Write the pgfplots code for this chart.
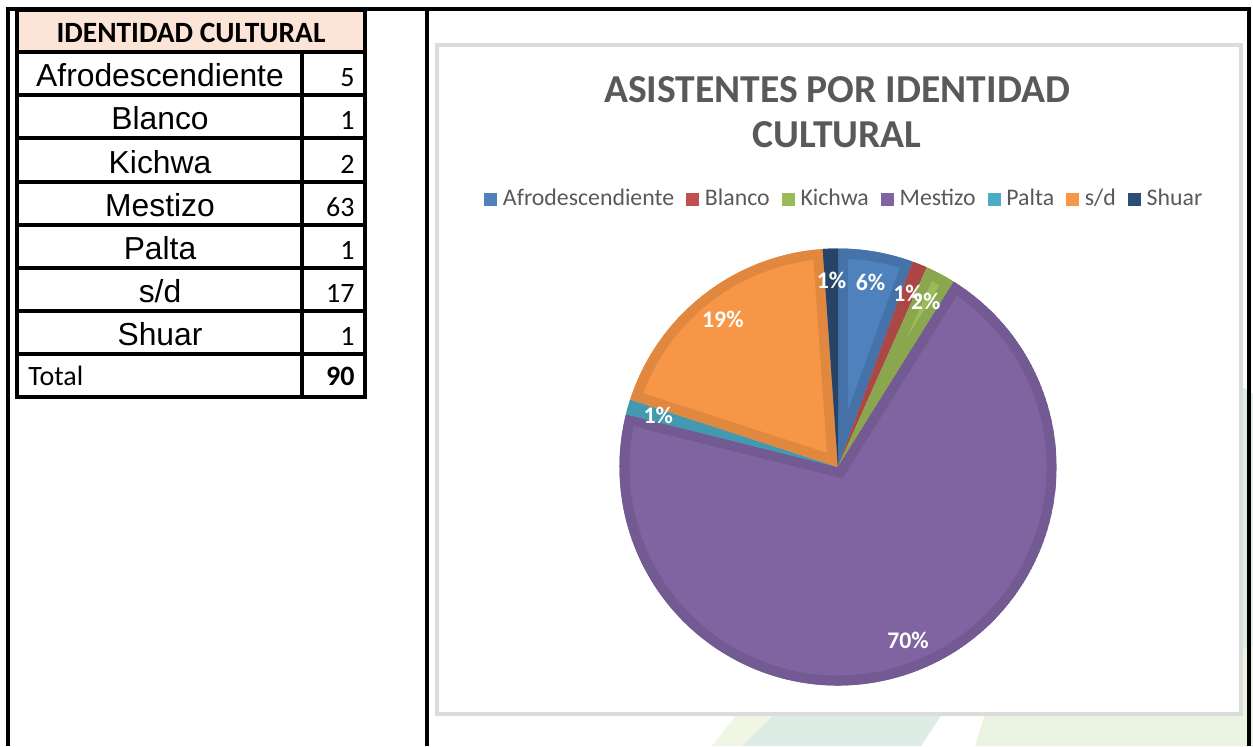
\documentclass[border=0pt]{standalone}
\usepackage{pgfplots}
\pgfplotsset{compat=1.18}
\usepackage{pgfplotstable}
\usepackage{fontspec}
\setmainfont{Carlito}
\newfontfamily\arialfont{Liberation Sans}

\definecolor{c0}{HTML}{4F81BD}\definecolor{b0}{HTML}{4672AA}
\definecolor{c1}{HTML}{C0504D}\definecolor{b1}{HTML}{AB4744}
\definecolor{c2}{HTML}{9BBB59}\definecolor{b2}{HTML}{8AA64F}
\definecolor{c3}{HTML}{8064A2}\definecolor{b3}{HTML}{735A92}
\definecolor{c4}{HTML}{4BACC6}\definecolor{b4}{HTML}{4399B0}
\definecolor{c5}{HTML}{F79646}\definecolor{b5}{HTML}{E0883F}
\definecolor{c6}{HTML}{2C4D75}\definecolor{b6}{HTML}{274468}
\definecolor{txtgray}{HTML}{595959}
\definecolor{boxgray}{HTML}{DCDCDC}
\definecolor{headfill}{HTML}{FCE4D6}
\definecolor{wmteal}{HTML}{DDEDE6}
\definecolor{wmgreen}{HTML}{EBF3E3}
\definecolor{wmyel}{HTML}{F0F6E4}

\pgfplotstableread{
label value
Afrodescendiente 5
Blanco 1
Kichwa 2
Mestizo 63
Palta 1
s/d 17
Shuar 1
}\datatable

% cumulative angles from the table
\xdef\pietotal{0}
\pgfplotsinvokeforeach{0,...,6}{%
  \pgfplotstablegetelem{#1}{value}\of\datatable
  \pgfmathsetmacro\tmpT{\pietotal+\pgfplotsretval}%
  \xdef\pietotal{\tmpT}%
}
\xdef\piecum{0}
\pgfplotsinvokeforeach{0,...,6}{%
  \pgfplotstablegetelem{#1}{value}\of\datatable
  \pgfmathsetmacro\tmpS{90-\piecum/\pietotal*360}%
  \pgfmathsetmacro\tmpE{90-(\piecum+\pgfplotsretval)/\pietotal*360}%
  \pgfmathsetmacro\tmpM{(\tmpS+\tmpE)/2}%
  \pgfmathtruncatemacro\tmpP{round(\pgfplotsretval/\pietotal*100)}%
  \expandafter\xdef\csname pieS#1\endcsname{\tmpS}%
  \expandafter\xdef\csname pieE#1\endcsname{\tmpE}%
  \expandafter\xdef\csname pieM#1\endcsname{\tmpM}%
  \expandafter\xdef\csname pieP#1\endcsname{\tmpP}%
  \pgfmathsetmacro\tmpC{\piecum+\pgfplotsretval}%
  \xdef\piecum{\tmpC}%
}
\newcommand\piepath[1]{(axis cs:0,0) -- ++(\csname pieS#1\endcsname:109.25pt) arc[start angle=\csname pieS#1\endcsname, end angle=\csname pieE#1\endcsname, radius=109.25pt] -- cycle}

\begin{document}
\begin{tikzpicture}[x=0.5pt,y=0.5pt]
\useasboundingbox (0,0) rectangle (1253,746);

% faint background decoration
\fill[wmteal] (1241,360) -- (1253,352) -- (1253,100) -- (1241,96) -- cycle;
\fill[wmgreen] (1241,96) -- (1253,100) -- (1253,0) -- (1241,0) -- cycle;
\fill[wmyel] (737,32) -- (775,32) -- (742,0) -- (712,0) -- cycle;
\fill[wmteal] (775,32) -- (942,32) -- (921,0) -- (742,0) -- cycle;
\fill[wmgreen] (985,32) -- (1253,32) -- (1253,0) -- (975,0) -- cycle;

% chart box
\filldraw[fill=white, draw=boxgray, line width=2] (437,32) rectangle (1241,701);

% outer frame
\draw[line width=2] (8,0) -- (8,737) -- (1249,737) -- (1249,0);
\draw[line width=2] (427,737) -- (427,0);

% table
\fill[headfill] (17,694) rectangle (365,736);
\draw[line width=1.6] (17,736) rectangle (365,349);
\foreach \yy in {694,651,608,564,521,478,435,392} \draw[line width=1.6] (17,\yy) -- (365,\yy);
\draw[line width=1.6] (302,694) -- (302,349);
\node[anchor=base, font=\fontsize{14.7}{16}\selectfont\bfseries] at (191,703) {IDENTIDAD CULTURAL};
\foreach \lab/\val/\yb in {Afrodescendiente/5/651, Blanco/1/608, Kichwa/2/564, Mestizo/63/521, Palta/1/478, s\slash d/17/435, Shuar/1/392}{
  \node[anchor=base, font=\arialfont\fontsize{15.9}{18}\selectfont] at (160,\yb+8.5) {\lab};
  \node[anchor=base east, inner sep=0pt, font=\fontsize{14}{16}\selectfont] at (355,\yb+8.5) {\val};
}
\node[anchor=base west, inner sep=0pt, font=\fontsize{14}{16}\selectfont] at (28,361) {Total};
\node[anchor=base east, inner sep=0pt, font=\fontsize{14}{16}\selectfont\bfseries] at (355,361) {90};

% chart title
\node[anchor=base, text=txtgray, font=\fontsize{19.8}{22}\selectfont\bfseries] at (837,643) {ASISTENTES POR IDENTIDAD};
\node[anchor=base, text=txtgray, font=\fontsize{19.8}{22}\selectfont\bfseries] at (837,598) {CULTURAL};

\begin{axis}[
  at={(419pt,139.5pt)}, anchor=origin,
  x=0.5pt, y=0.5pt,
  xmin=-220, xmax=220, ymin=-220, ymax=220,
  hide axis, clip=false,
  legend columns=7,
  legend style={at={(axis description cs:0.512,1.108)}, anchor=center,
    draw=none, fill=none,
    font=\fontsize{11.9}{14}\selectfont,
    text=txtgray,
    nodes={inner sep=0pt, text height=8.5pt, text depth=2.2pt},
    /tikz/every odd column/.append style={column sep=3pt},
    /tikz/every even column/.append style={column sep=6pt}},
]
\pgfplotsinvokeforeach{0,...,6}{%
  \begin{scope}
    \clip \piepath{#1};
    \fill[c#1] \piepath{#1};
    \draw[b#1, line width=10pt] \piepath{#1};
  \end{scope}
}
\pgfplotsinvokeforeach{0,...,6}{%
  \node[text=white, font=\fontsize{11.9}{14}\selectfont\bfseries]
    at (axis cs:{187*cos(\csname pieM#1\endcsname)},{187*sin(\csname pieM#1\endcsname)}) {\csname pieP#1\endcsname\%};
}
\addlegendimage{legend image code/.code={\fill[c0] (0pt,-3pt) rectangle (6pt,3pt);}}\addlegendentry{Afrodescendiente}
\addlegendimage{legend image code/.code={\fill[c1] (0pt,-3pt) rectangle (6pt,3pt);}}\addlegendentry{Blanco}
\addlegendimage{legend image code/.code={\fill[c2] (0pt,-3pt) rectangle (6pt,3pt);}}\addlegendentry{Kichwa}
\addlegendimage{legend image code/.code={\fill[c3] (0pt,-3pt) rectangle (6pt,3pt);}}\addlegendentry{Mestizo}
\addlegendimage{legend image code/.code={\fill[c4] (0pt,-3pt) rectangle (6pt,3pt);}}\addlegendentry{Palta}
\addlegendimage{legend image code/.code={\fill[c5] (0pt,-3pt) rectangle (6pt,3pt);}}\addlegendentry{s/d}
\addlegendimage{legend image code/.code={\fill[c6] (0pt,-3pt) rectangle (6pt,3pt);}}\addlegendentry{Shuar}
\end{axis}
\end{tikzpicture}
\end{document}
